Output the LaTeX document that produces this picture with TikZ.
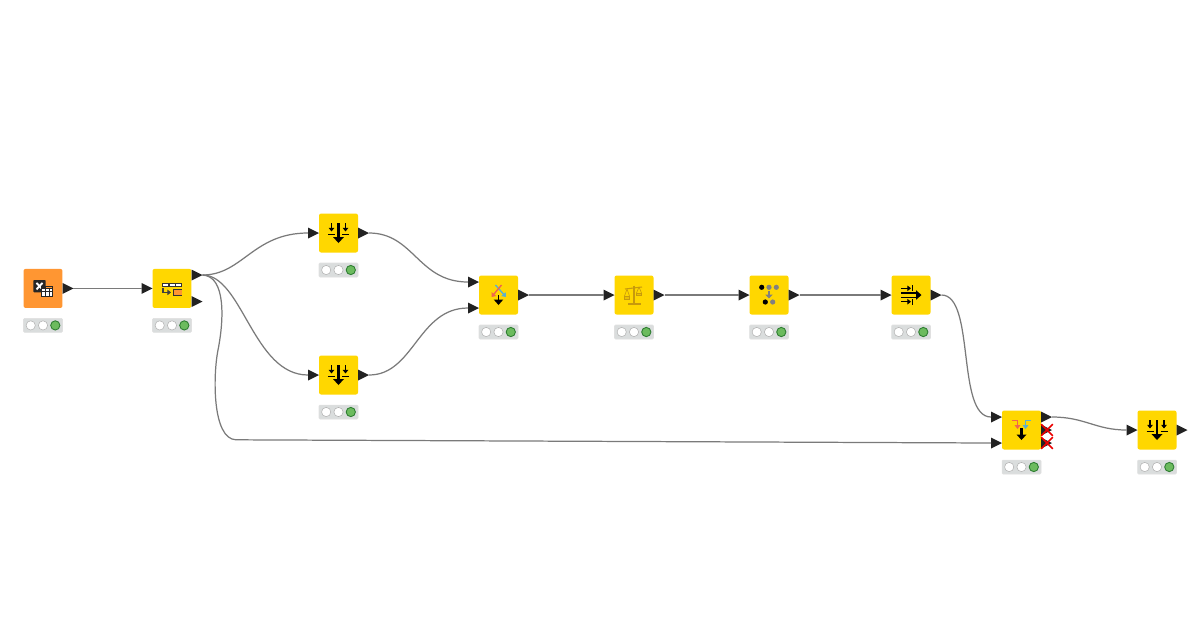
\documentclass[tikz,border=0pt]{standalone}
\usetikzlibrary{shapes.geometric,shapes.misc,arrows.meta}

\definecolor{nodeyellow}{HTML}{FFD700}
\definecolor{nodeorange}{HTML}{FF9632}
\definecolor{portdark}{HTML}{222222}
\definecolor{lightgreen}{HTML}{6CBB5E}
\definecolor{lightedge}{HTML}{2E7D32}
\definecolor{barfill}{HTML}{DADDDD}
\definecolor{iconred}{HTML}{F0654E}
\definecolor{iconblue}{HTML}{5CB0CC}
\definecolor{icongold}{HTML}{C79A0C}

% status bar under a node: two empty lights and a green one
\newcommand{\statuslights}[1]{
    \node[statusbar] (#1bar) at ([shift={(0,37)}]#1.center) {};
    \node[lightoff] (#1l1) at ([shift={(-12.3,0)}]#1bar.center) {};
    \node[lightoff] (#1l2) at (#1bar.center) {};
    \node[lighton] (#1l3) at ([shift={(12.3,0)}]#1bar.center) {};
}
% the big arrow with two small arrows over bars
\newcommand{\filtericon}[1]{
    \begin{scope}[shift={(#1.center)}]
        \draw[line width=1.4pt] (0,-10) -- (0,5);
        \fill (-5.5,4) -- (5.5,4) -- (0,10) -- cycle;
        \draw[smallarrow] (-7,-10) -- (-7,-1.5);
        \draw[smallarrow] (7,-10) -- (7,-1.5);
        \draw[line width=0.7pt] (-10.5,1.5) -- (-3.5,1.5);
        \draw[line width=0.7pt] (3.5,1.5) -- (10.5,1.5);
    \end{scope}
}

\begin{document}
\begin{tikzpicture}[x=0.02cm,y=-0.02cm]
    \tikzstyle{knode}=[rectangle,rounded corners=1.2pt,minimum size=0.78cm,inner sep=0pt,outer sep=0pt,fill=nodeyellow]
    \tikzstyle{sourcenode}=[knode,fill=nodeorange]
    \tikzstyle{port}=[isosceles triangle,isosceles triangle stretches,minimum width=0.22cm,minimum height=0.22cm,inner sep=0pt,outer sep=0pt,fill=portdark]
    \tikzstyle{inport}=[port,anchor=apex]
    \tikzstyle{outport}=[port,anchor=lower side]
    \tikzstyle{statusbar}=[rectangle,rounded corners=0.6pt,minimum width=0.78cm,minimum height=0.28cm,inner sep=0pt,outer sep=0pt,fill=barfill,draw=black!12,line width=0.3pt]
    \tikzstyle{lightoff}=[circle,minimum size=0.185cm,inner sep=0pt,fill=white,draw=black!30,line width=0.3pt]
    \tikzstyle{lighton}=[lightoff,fill=lightgreen,draw=lightedge,line width=0.5pt]
    \tikzstyle{wire}=[draw=black!52,line width=0.7pt]
    \tikzstyle{smallarrow}=[-{Triangle[length=2pt,width=3pt]},line width=0.6pt]
    \tikzstyle{deadport}=[cross out,draw=red!92!black,line width=0.9pt,minimum size=0.2cm,inner sep=0pt]

    \useasboundingbox (0,0) rectangle (1200,630);
    \fill[white] (0,0) rectangle (1200,630);

    \node[sourcenode] (reader) at (43,288.4) {};
    \node[knode] (split) at (172,288.4) {};
    \node[knode] (filtera) at (338.5,233) {};
    \node[knode] (filterb) at (338.5,375) {};
    \node[knode] (joina) at (498.5,295) {};
    \node[knode] (balance) at (634,295) {};
    \node[knode] (pca) at (769,295) {};
    \node[knode] (stream) at (911,295) {};
    \node[knode] (joinb) at (1021.5,430) {};
    \node[knode] (last) at (1157,430) {};

    \statuslights{reader}
    \statuslights{split}
    \statuslights{filtera}
    \statuslights{filterb}
    \statuslights{joina}
    \statuslights{balance}
    \statuslights{pca}
    \statuslights{stream}
    \statuslights{joinb}
    \statuslights{last}

    % ports
    \node[outport] (readerout) at (62.5,288.4) {};
    \node[inport] (splitin) at (152.5,288.4) {};
    \node[outport] (splitouta) at (191.5,275) {};
    \node[outport] (splitoutb) at (191.5,301.5) {};
    \node[inport] (filterain) at (319,233) {};
    \node[outport] (filteraout) at (358,233) {};
    \node[inport] (filterbin) at (319,375) {};
    \node[outport] (filterbout) at (358,375) {};
    \node[inport] (joinaina) at (479,282) {};
    \node[inport] (joinainb) at (479,308) {};
    \node[outport] (joinaout) at (518,295) {};
    \node[inport] (balancein) at (614.5,295) {};
    \node[outport] (balanceout) at (653.5,295) {};
    \node[inport] (pcain) at (749.5,295) {};
    \node[outport] (pcaout) at (788.5,295) {};
    \node[inport] (streamin) at (891.5,295) {};
    \node[outport] (streamout) at (930.5,295) {};
    \node[inport] (joinbina) at (1002,417) {};
    \node[inport] (joinbinb) at (1002,443) {};
    \node[outport] (joinbouta) at (1041,417) {};
    \node[outport] (joinboutb) at (1041,430) {};
    \node[outport] (joinboutc) at (1041,443) {};
    \node[inport] (lastin) at (1137.5,430) {};
    \node[outport] (lastout) at (1176.5,430) {};
    \node[deadport] (deadb) at (1047,430) {};
    \node[deadport] (deadc) at (1047,443) {};

    % connectors
    \coordinate (bend) at (236,439.8);
    \coordinate (belly) at (218,350);
    \draw[wire] (readerout.apex) -- (splitin.lower side);
    \draw[wire] (splitouta.apex) .. controls +(40,0) and +(-55,0) .. (filterain.lower side);
    \draw[wire] (splitouta.apex) .. controls +(40,0) and +(-55,0) .. (filterbin.lower side);
    \draw[wire] (splitouta.apex) .. controls (226,276) and (224,320) .. (belly) .. controls (213,375) and (212,439) .. (bend) -- (joinbinb.lower side);
    \draw[wire] (filteraout.apex) .. controls +(45,0) and +(-50,0) .. (joinaina.lower side);
    \draw[wire] (filterbout.apex) .. controls +(45,0) and +(-50,0) .. (joinainb.lower side);
    \draw[wire] (joinaout.apex) -- (balancein.lower side);
    \draw[wire] (balanceout.apex) -- (pcain.lower side);
    \draw[wire] (pcaout.apex) -- (streamin.lower side);
    \draw[wire] (streamout.apex) .. controls +(34,0) and +(-35,0) .. (joinbina.lower side);
    \draw[wire] (joinbouta.apex) .. controls +(33,0) and +(-31,0) .. (lastin.lower side);

    % icons
    \filtericon{filtera}
    \filtericon{filterb}
    \filtericon{last}

    \begin{scope}[shift={(reader.center)}]
        \fill[black!85,rounded corners=0.5pt] (-9.7,-8.4) rectangle (2.7,3.9);
        \draw[white,line width=1.1pt] (-6.5,-5.5) -- (-0.5,1);
        \draw[white,line width=1.1pt] (-0.5,-5.5) -- (-6.5,1);
        \fill[black!85] (-2,-2.7) rectangle (9.7,8.3);
        \fill[nodeorange] (3.2,-1.8) rectangle (8.9,0);
        \fill[white] (-1,1) rectangle (2,3);
        \fill[white] (3,1) rectangle (5.5,3);
        \fill[white] (6.5,1) rectangle (8.9,3);
        \fill[white] (-1,4) rectangle (2,7.3);
        \fill[white] (3,4) rectangle (5.5,7.3);
        \fill[white] (6.5,4) rectangle (8.9,7.3);
    \end{scope}

    \begin{scope}[shift={(split.center)}]
        \fill[black!80] (-9.7,-5.7) rectangle (9.7,-1.5);
        \fill[white] (-8.7,-4.7) rectangle (-3.8,-2.5);
        \fill[white] (-2.5,-4.7) rectangle (2.5,-2.5);
        \fill[white] (3.8,-4.7) rectangle (8.7,-2.5);
        \draw[black!75,line width=0.7pt,-{Triangle[length=2pt,width=3pt]}] (-9,0) -- (-9,4) -- (-1,4);
        \fill[nodeorange] (1.7,2) rectangle (9.7,7);
        \draw[black!80,line width=0.6pt] (9.7,1.5) -- (1.7,1.5) -- (1.7,7.3) -- (9.7,7.3);
    \end{scope}

    \begin{scope}[shift={(joina.center)}]
        \draw[iconblue,line width=0.8pt,-{Triangle[length=2.2pt,width=3.2pt]}] (-3,-10) -- (7.5,2);
        \draw[iconred,line width=0.8pt,-{Triangle[length=2.2pt,width=3.2pt]}] (3,-10) -- (-7,2);
        \draw[line width=1.1pt] (0,0) -- (0,6);
        \fill (-4.8,4.5) -- (4.8,4.5) -- (0,10) -- cycle;
    \end{scope}

    \begin{scope}[shift={(balance.center)},icongold]
        \draw[line width=0.9pt] (0,-9.5) -- (0,8);
        \draw[line width=0.6pt] (-9,-6) -- (8,-8);
        \draw[line width=0.9pt] (-6,8.7) -- (7,8.7);
        \draw[line width=0.35pt] (-7,-6) -- (-9.5,1) (-7,-6) -- (-4.5,1);
        \draw[line width=0.35pt] (5,-8) -- (2.5,-2) (5,-8) -- (7.5,-2);
        \draw[line width=0.5pt,fill=nodeyellow!60!icongold] (-9.5,1) rectangle (-4.5,4);
        \draw[line width=0.5pt,fill=nodeyellow!60!icongold] (2.5,-2) rectangle (7.5,0.5);
    \end{scope}

    \begin{scope}[shift={(pca.center)}]
        \fill (-7.3,-7.7) circle (2.6);
        \fill[black!50] (0,-7.7) circle (2.6);
        \fill[black!50] (7.3,-7.7) circle (2.6);
        \draw[black!50,line width=0.8pt,-{Triangle[length=2.2pt,width=4pt]}] (0,-4) -- (0,3.5);
        \fill (-3.7,7) circle (2.6);
        \fill[black!50] (3.7,7) circle (2.6);
    \end{scope}

    \begin{scope}[shift={(stream.center)}]
        \draw[line width=0.9pt] (-9.7,-2.3) -- (6,-2.3);
        \draw[line width=0.9pt] (-9.7,2.3) -- (6,2.3);
        \fill (5,-4.8) -- (10.5,0) -- (5,4.8) -- cycle;
        \draw[smallarrow] (-9.7,-6.7) -- (0,-6.7);
        \draw[line width=0.6pt] (1.7,-10) -- (1.7,-4);
        \draw[smallarrow] (-9.7,6.7) -- (0,6.7);
        \draw[line width=0.6pt] (1.7,4) -- (1.7,10);
    \end{scope}

    \begin{scope}[shift={(joinb.center)}]
        \draw[iconred,line width=0.8pt,-{Triangle[length=2.2pt,width=3.2pt]}] (-9.7,-9.3) -- (-4,-9.3) -- (-4,-1);
        \draw[iconblue,line width=0.8pt,-{Triangle[length=2.2pt,width=3.2pt]}] (9.7,-9.3) -- (4,-9.3) -- (4,-1);
        \draw[line width=1.3pt] (0,-2) -- (0,6);
        \fill (-5,4.5) -- (5,4.5) -- (0,10) -- cycle;
    \end{scope}
\end{tikzpicture}
\end{document}
